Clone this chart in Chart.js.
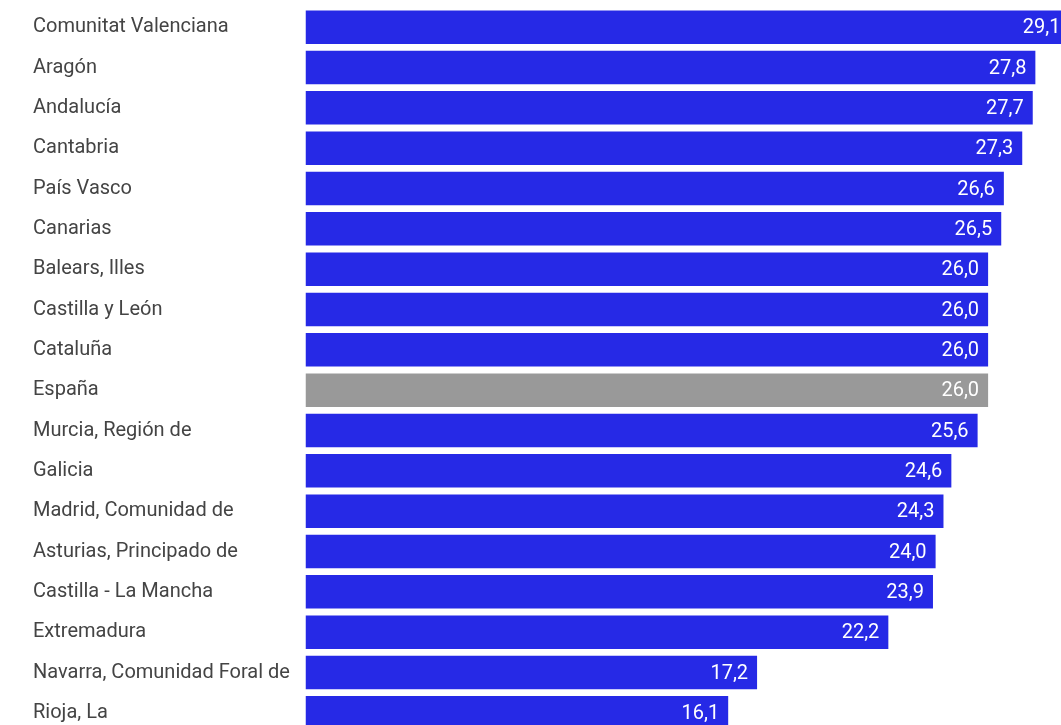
<!DOCTYPE html>
<html lang="es">
<head>
  <meta charset="UTF-8">
  <title>Comunidades autónomas</title>
  <script src="https://cdn.jsdelivr.net/npm/chart.js"></script>
  <style>
    html, body { margin: 0; padding: 0; background: #fff; }
    .wrap { width: 1061px; height: 725px; overflow: hidden; position: relative; }
    canvas { display: block; margin-top: -5px; }
  </style>
</head>
<body>
  <div class="wrap">
    <canvas id="barChart" width="1080" height="750"></canvas>
  </div>

  <script>
    // Data
    const regions = [
      'Comunitat Valenciana', 'Aragón', 'Andalucía', 'Cantabria', 'País Vasco',
      'Canarias', 'Balears, Illes', 'Castilla y León', 'Cataluña', 'España',
      'Murcia, Región de', 'Galicia', 'Madrid, Comunidad de', 'Asturias, Principado de',
      'Castilla - La Mancha', 'Extremadura', 'Navarra, Comunidad Foral de', 'Rioja, La'
    ];
    const values = [29.1, 27.8, 27.7, 27.3, 26.6, 26.5, 26.0, 26.0, 26.0, 26.0,
                    25.6, 24.6, 24.3, 24.0, 23.9, 22.2, 17.2, 16.1];
    const highlight = 'España';

    const BLUE = '#2629e6';
    const GREY = '#999999';

    // Value labels inside the end of each bar
    const valueLabels = {
      id: 'valueLabels',
      afterDatasetsDraw(chart) {
        const ctx = chart.ctx;
        const meta = chart.getDatasetMeta(0);
        ctx.save();
        ctx.font = '20px Roboto';
        ctx.fillStyle = '#ffffff';
        ctx.textAlign = 'right';
        ctx.textBaseline = 'middle';
        meta.data.forEach((bar, i) => {
          const txt = values[i].toFixed(1).replace('.', ',');
          ctx.fillText(txt, bar.x - 9, bar.y + 1);
        });
        ctx.restore();
      }
    };

    new Chart(document.getElementById('barChart').getContext('2d'), {
      type: 'bar',
      data: {
        labels: regions,
        datasets: [{
          data: values,
          backgroundColor: regions.map(r => r === highlight ? GREY : BLUE),
          borderWidth: 0,
          categoryPercentage: 1,
          barPercentage: 0.83
        }]
      },
      options: {
        indexAxis: 'y',
        responsive: false,
        animation: false,
        devicePixelRatio: 1,
        layout: { padding: { left: 33, top: 0, right: 0, bottom: 0 } },
        plugins: {
          legend: { display: false },
          tooltip: { enabled: false }
        },
        scales: {
          x: {
            display: false,
            min: 0,
            max: 29.5
          },
          y: {
            grid: { display: false },
            border: { display: false },
            ticks: {
              crossAlign: 'far',
              color: '#444444',
              font: { family: 'Roboto', size: 20 },
              padding: 0
            },
            afterFit(scale) { scale.width = 272.5; }
          }
        }
      },
      plugins: [valueLabels]
    });
  </script>
</body>
</html>
